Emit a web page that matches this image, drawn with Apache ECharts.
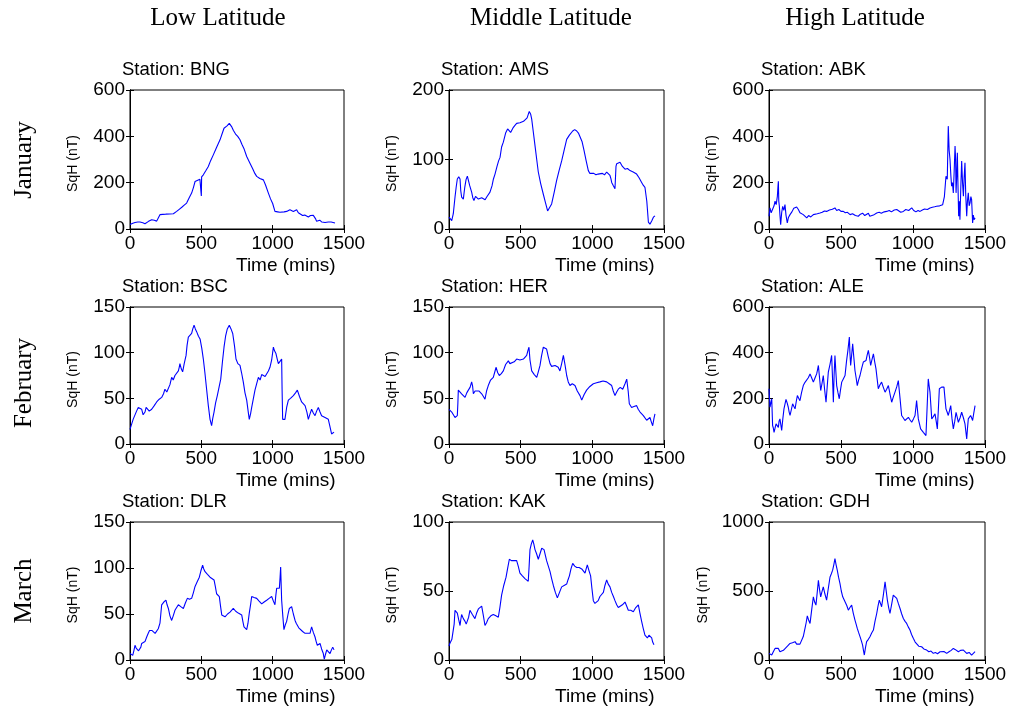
<!DOCTYPE html>
<html>
<head>
<meta charset="utf-8">
<script src="https://cdn.jsdelivr.net/npm/echarts@6/dist/echarts.min.js"></script>
<style>html,body{margin:0;padding:0;background:#fff}#c{width:1010px;height:709px}</style>
</head>
<body>
<div id="c"></div>
<script>
// ---- Data (time in minutes, SqH in nT) ----
const columnHeaders = ["Low Latitude", "Middle Latitude", "High Latitude"];
const rowHeaders = ["January", "February", "March"];
const stations = ["BNG", "AMS", "ABK", "BSC", "HER", "ALE", "DLR", "KAK", "GDH"];
const xTicks = [0, 500, 1000, 1500];
const yMaxes = [600, 200, 600, 150, 150, 600, 150, 100, 1000];
const yIntervals = [200, 100, 200, 50, 50, 200, 50, 50, 500];

const BNG = [[0,19],[20,25],[35,28],[55,30],[70,30],[90,27],[105,23],[130,33],[152,40],[170,38],[187,34],[200,50],[210,62],[230,63],[250,64],[280,65],[304,66],[327,76],[345,85],[365,95],[380,103],[397,112],[415,135],[432,155],[445,180],[456,205],[470,210],[490,215],[498,215],[500,143],[502,225],[514,234],[530,250],[549,270],[565,295],[584,320],[605,350],[631,385],[645,410],[659,435],[680,445],[696,456],[712,442],[725,425],[740,410],[755,400],[771,385],[785,365],[800,345],[818,313],[840,285],[860,260],[875,240],[888,227],[910,218],[935,212],[950,190],[970,155],[985,130],[1000,110],[1016,76],[1035,74],[1051,72],[1065,76],[1080,74],[1098,76],[1110,80],[1121,83],[1133,78],[1145,76],[1158,80],[1168,83],[1180,70],[1192,62],[1210,58],[1225,60],[1238,55],[1250,52],[1265,58],[1285,59],[1300,45],[1308,33],[1320,35],[1330,38],[1345,30],[1355,33],[1367,28],[1379,23],[1390,30],[1402,36],[1410,30],[1420,28],[1437,26]];
const AMS = [[0,17],[10,18],[19,12],[30,22],[42,46],[50,60],[58,72],[68,75],[77,72],[82,55],[88,46],[100,43],[110,60],[119,71],[128,76],[135,74],[145,62],[158,53],[166,45],[174,41],[185,47],[193,46],[205,43],[216,41],[228,45],[240,44],[252,42],[263,46],[275,48],[286,53],[300,62],[310,72],[321,79],[335,90],[346,98],[356,103],[367,118],[379,125],[395,138],[409,144],[420,143],[430,139],[437,141],[448,146],[460,149],[472,152],[484,151],[495,153],[508,152],[520,155],[530,156],[545,160],[553,165],[560,169],[570,165],[577,158],[588,140],[600,120],[612,100],[623,82],[640,65],[658,50],[673,38],[688,26],[700,28],[716,36],[733,52],[751,70],[768,84],[786,98],[803,113],[821,129],[840,135],[863,141],[877,143],[891,141],[903,138],[914,139],[928,126],[942,113],[957,98],[972,84],[983,80],[995,79],[1010,80],[1025,78],[1040,79],[1053,77],[1070,80],[1085,78],[1100,82],[1112,80],[1123,77],[1130,72],[1135,67],[1145,63],[1150,62],[1158,58],[1165,90],[1170,94],[1182,92],[1193,96],[1210,90],[1228,86],[1245,87],[1263,84],[1285,82],[1309,79],[1325,74],[1344,67],[1355,63],[1367,60],[1380,40],[1391,10],[1402,7],[1415,12],[1426,17],[1437,19]];
const ABK = [[0,55],[7,91],[15,70],[25,76],[35,100],[42,120],[50,105],[58,141],[62,180],[65,206],[68,120],[72,98],[76,60],[81,19],[88,70],[95,98],[103,80],[111,105],[118,60],[127,26],[135,50],[146,62],[160,75],[172,90],[181,98],[192,95],[204,84],[215,70],[228,75],[238,62],[250,55],[262,48],[275,58],[290,52],[308,62],[320,58],[335,66],[354,69],[370,72],[385,78],[400,76],[420,82],[440,85],[458,91],[470,80],[485,84],[500,76],[516,76],[530,70],[545,72],[563,62],[580,66],[600,58],[620,55],[635,64],[650,68],[665,58],[678,62],[690,68],[700,55],[713,48],[725,60],[748,69],[765,72],[780,68],[800,74],[817,76],[835,80],[850,74],[870,82],[887,84],[900,78],[915,72],[933,76],[950,84],[970,80],[991,91],[1005,80],[1020,74],[1035,80],[1049,76],[1065,82],[1080,86],[1100,84],[1118,91],[1135,94],[1150,96],[1164,98],[1185,100],[1206,105],[1218,140],[1229,228],[1238,215],[1245,444],[1251,340],[1257,300],[1263,230],[1268,185],[1274,200],[1280,156],[1286,250],[1292,358],[1296,300],[1299,156],[1303,220],[1308,329],[1312,200],[1317,55],[1322,120],[1326,40],[1332,180],[1338,293],[1344,200],[1350,141],[1355,220],[1361,286],[1366,150],[1373,55],[1378,120],[1384,156],[1390,100],[1396,113],[1402,140],[1407,127],[1411,70],[1414,26],[1419,60],[1424,40],[1431,48]];
const BSC = [[0,16],[12,22],[22,27],[35,29],[46,36],[58,40],[70,38],[82,38],[92,32],[105,35],[113,40],[121,42],[135,36],[152,38],[170,42],[187,46],[205,49],[222,51],[235,55],[245,60],[258,57],[269,59],[280,65],[292,73],[303,70],[315,75],[327,76],[339,80],[345,84],[350,88],[360,82],[369,79],[380,88],[393,97],[400,108],[409,117],[420,118],[432,121],[440,126],[449,130],[458,126],[467,123],[480,118],[491,115],[503,105],[514,93],[525,78],[537,60],[549,42],[561,27],[572,20],[580,28],[589,35],[600,45],[612,53],[624,62],[636,71],[648,90],[659,106],[670,118],[682,126],[690,128],[696,130],[708,126],[720,121],[732,108],[743,93],[756,88],[771,86],[782,78],[794,68],[806,56],[818,48],[828,36],[836,27],[845,33],[853,40],[865,50],[876,59],[888,66],[900,73],[912,70],[923,76],[935,77],[947,74],[958,75],[970,80],[981,84],[993,92],[1005,106],[1013,102],[1023,99],[1032,93],[1040,88],[1050,90],[1063,93],[1066,60],[1070,27],[1078,25],[1086,27],[1098,40],[1110,48],[1125,50],[1145,53],[1160,56],[1173,59],[1188,52],[1203,46],[1215,45],[1227,42],[1240,35],[1250,27],[1262,33],[1273,38],[1285,34],[1297,31],[1308,36],[1320,40],[1332,35],[1343,31],[1355,33],[1367,29],[1378,30],[1390,27],[1400,20],[1413,11],[1422,12],[1430,13]];
const HER = [[0,38],[10,40],[19,35],[30,34],[42,29],[50,30],[58,31],[62,45],[65,59],[77,58],[88,55],[100,53],[112,51],[124,56],[135,59],[147,62],[158,68],[165,63],[170,55],[182,58],[193,60],[210,58],[228,55],[240,52],[251,49],[262,58],[274,64],[290,70],[309,73],[318,78],[328,84],[340,78],[351,75],[365,77],[379,80],[395,87],[414,91],[425,88],[437,86],[455,90],[472,93],[495,92],[519,93],[530,95],[542,97],[550,102],[558,106],[565,92],[577,80],[595,76],[612,73],[623,79],[635,86],[645,96],[658,106],[670,105],[681,104],[692,96],[705,88],[716,85],[728,84],[740,86],[751,88],[762,84],[774,80],[786,88],[798,97],[810,86],[821,75],[832,68],[844,64],[860,66],[879,64],[895,58],[914,53],[926,48],[942,54],[960,59],[983,63],[1007,66],[1030,67],[1053,68],[1075,69],[1100,68],[1118,66],[1135,64],[1146,58],[1158,53],[1170,57],[1181,60],[1195,62],[1212,60],[1228,66],[1240,71],[1250,58],[1258,44],[1266,42],[1274,40],[1290,41],[1309,42],[1320,38],[1333,35],[1345,33],[1356,31],[1367,29],[1379,26],[1390,28],[1402,29],[1412,24],[1421,20],[1430,28],[1437,33]];
const ALE = [[0,242],[7,161],[13,180],[19,198],[25,81],[30,70],[35,51],[42,70],[49,88],[57,80],[65,73],[70,100],[76,110],[82,85],[88,59],[96,110],[104,154],[111,175],[118,195],[126,180],[134,161],[140,140],[146,125],[155,150],[164,176],[172,165],[181,154],[189,185],[197,212],[206,200],[215,190],[226,225],[238,256],[250,270],[262,278],[273,290],[285,307],[296,290],[308,271],[320,290],[331,307],[337,325],[343,344],[351,290],[359,234],[368,265],[377,300],[386,240],[396,183],[404,250],[412,315],[424,350],[435,388],[441,290],[447,183],[452,300],[458,388],[464,320],[470,256],[479,225],[488,198],[496,235],[505,271],[516,285],[528,300],[533,330],[539,366],[548,410],[558,468],[562,400],[567,344],[574,390],[581,439],[589,380],[597,322],[605,290],[613,256],[622,280],[632,300],[643,330],[655,359],[664,362],[674,366],[682,390],[690,410],[698,380],[706,344],[715,370],[725,395],[734,360],[743,329],[751,285],[759,242],[770,258],[782,271],[794,248],[806,227],[817,240],[829,256],[840,220],[852,183],[863,205],[875,227],[887,250],[898,278],[910,200],[921,125],[932,115],[944,103],[956,110],[968,117],[980,105],[991,95],[1003,110],[1014,125],[1020,160],[1025,190],[1031,150],[1037,110],[1045,88],[1053,66],[1062,58],[1072,51],[1081,45],[1090,37],[1098,160],[1106,285],[1112,255],[1118,227],[1124,170],[1130,110],[1141,120],[1153,132],[1161,100],[1169,66],[1176,150],[1183,242],[1191,245],[1199,249],[1207,250],[1215,249],[1222,200],[1229,154],[1237,140],[1245,125],[1253,145],[1262,168],[1271,110],[1280,66],[1290,100],[1299,139],[1307,118],[1315,95],[1327,115],[1338,139],[1350,115],[1361,88],[1367,55],[1373,22],[1378,65],[1384,110],[1392,118],[1400,125],[1407,115],[1414,103],[1422,135],[1431,168]];
const DLR = [[0,7],[10,6],[19,5],[27,10],[35,16],[43,13],[51,11],[60,10],[70,9],[76,14],[82,18],[94,19],[105,20],[117,25],[128,29],[137,32],[145,34],[155,32],[164,31],[176,29],[187,27],[198,34],[210,40],[216,50],[222,60],[237,63],[252,65],[260,60],[269,56],[280,48],[292,43],[303,48],[315,54],[327,57],[339,60],[356,58],[374,56],[388,62],[402,67],[417,66],[432,67],[444,73],[456,80],[471,85],[486,90],[497,97],[509,103],[517,99],[526,96],[543,93],[561,90],[575,88],[589,87],[598,80],[607,72],[617,70],[626,69],[635,58],[643,49],[654,48],[666,47],[684,50],[701,52],[712,54],[724,56],[741,53],[759,51],[771,50],[783,49],[791,42],[799,36],[808,34],[818,33],[827,40],[836,51],[845,60],[853,69],[870,68],[888,67],[905,64],[923,61],[940,63],[958,65],[975,67],[993,69],[1005,64],[1016,60],[1022,70],[1028,78],[1038,78],[1047,78],[1052,90],[1056,101],[1060,80],[1063,65],[1071,48],[1079,33],[1088,38],[1098,42],[1108,50],[1117,56],[1125,57],[1133,58],[1145,50],[1157,43],[1165,40],[1173,38],[1183,35],[1192,33],[1210,31],[1227,29],[1245,29],[1262,29],[1268,33],[1273,36],[1285,30],[1297,25],[1305,20],[1313,16],[1322,17],[1332,18],[1343,12],[1355,7],[1358,4],[1362,1],[1370,6],[1379,11],[1390,9],[1402,7],[1412,11],[1421,14],[1430,11]];
const KAK = [[0,10],[6,12],[12,13],[20,15],[30,16],[36,26],[42,36],[50,35],[58,34],[68,29],[77,25],[82,29],[88,33],[100,30],[112,28],[120,26],[128,25],[137,31],[146,36],[163,33],[181,30],[193,34],[205,37],[217,38],[228,39],[240,32],[251,25],[262,27],[274,30],[292,32],[309,33],[327,32],[344,31],[355,38],[367,47],[382,54],[398,60],[410,67],[421,73],[435,72],[449,72],[460,71],[472,72],[483,68],[495,63],[512,61],[530,59],[541,58],[553,57],[559,68],[565,80],[574,84],[584,87],[592,84],[600,80],[611,77],[623,73],[635,77],[647,81],[655,80],[663,80],[672,76],[681,72],[693,68],[705,64],[716,59],[728,54],[742,49],[756,45],[771,49],[786,53],[803,54],[821,55],[830,58],[840,61],[851,66],[863,70],[877,68],[891,67],[908,67],[926,66],[937,65],[949,63],[957,66],[965,69],[976,65],[988,61],[997,52],[1007,43],[1018,41],[1030,40],[1041,43],[1053,46],[1065,47],[1077,49],[1088,54],[1100,58],[1111,55],[1123,53],[1135,49],[1147,46],[1158,43],[1170,40],[1181,38],[1193,37],[1210,40],[1228,42],[1240,39],[1251,36],[1268,36],[1286,35],[1303,38],[1321,40],[1332,34],[1344,28],[1355,23],[1367,18],[1376,17],[1384,16],[1395,18],[1407,19],[1414,16],[1421,13],[1430,11]];
const GDH = [[0,48],[10,42],[19,36],[30,60],[42,84],[54,80],[65,84],[76,60],[88,48],[100,70],[111,84],[128,100],[146,120],[163,125],[181,133],[192,115],[204,108],[215,115],[227,120],[238,170],[250,229],[258,270],[266,320],[275,290],[285,265],[296,360],[308,458],[317,420],[326,398],[334,480],[343,578],[351,510],[359,458],[368,495],[377,530],[388,480],[400,434],[412,520],[424,602],[433,625],[442,651],[450,690],[458,735],[466,690],[474,651],[483,600],[493,554],[502,500],[512,458],[520,440],[528,434],[540,395],[551,361],[562,380],[574,398],[585,340],[597,289],[605,260],[613,229],[622,200],[632,169],[641,140],[650,108],[656,70],[662,36],[670,90],[678,133],[690,150],[701,169],[713,195],[725,217],[736,280],[748,337],[757,390],[766,434],[774,410],[782,386],[794,470],[806,566],[814,500],[822,434],[831,380],[840,337],[851,400],[863,470],[875,460],[887,446],[898,410],[910,373],[921,335],[933,301],[945,280],[956,265],[967,240],[979,217],[990,185],[1002,157],[1015,130],[1025,120],[1040,100],[1050,110],[1060,96],[1075,80],[1085,90],[1095,72],[1110,60],[1125,65],[1141,48],[1155,55],[1170,45],[1188,60],[1200,50],[1215,62],[1234,48],[1250,60],[1265,70],[1280,84],[1295,75],[1315,60],[1330,70],[1350,72],[1360,60],[1373,48],[1390,55],[1407,36],[1420,50],[1431,60]];

const seriesData = [BNG, AMS, ABK, BSC, HER, ALE, DLR, KAK, GDH];

// ---- Layout ----
const colLeft = [130, 449, 769];
const colWidth = [214, 215, 216];
const rowTop = [90, 307, 522];
const rowHeight = [139, 137, 138];
const colCenter = [218, 551, 855];
const rowCenter = [160, 383, 591];

const FONT = '"Liberation Sans", Arial, sans-serif';
const SERIF = '"Liberation Serif", "Times New Roman", serif';

const grids = [], xAxes = [], yAxes = [], series = [], graphics = [];
for (let i = 0; i < 9; i++) {
  const r = Math.floor(i / 3), c = i % 3;
  grids.push({left: colLeft[c], top: rowTop[r], width: colWidth[c], height: rowHeight[r],
    show: true, borderColor: '#000', borderWidth: 1, backgroundColor: 'transparent'});
  const axLine = {show: true, lineStyle: {color: '#000', width: 1}};
  const tick = {show: true, inside: true, length: 4, lineStyle: {color: '#000'}};
  xAxes.push({gridIndex: i, type: 'value', min: xTicks[0], max: xTicks[xTicks.length-1], interval: 500,
    axisLine: axLine, axisTick: tick, splitLine: {show: false},
    axisLabel: {color: '#000', fontSize: 19, fontFamily: FONT, margin: 5, formatter: v => String(v)}});
  xAxes.push({gridIndex: i, type: 'value', position: 'top', min: xTicks[0], max: xTicks[xTicks.length-1], interval: 500,
    axisLine: axLine, axisTick: tick, splitLine: {show: false}, axisLabel: {show: false}});
  yAxes.push({gridIndex: i, type: 'value', min: 0, max: yMaxes[i], interval: yIntervals[i],
    axisLine: axLine, axisTick: tick, splitLine: {show: false},
    axisLabel: {color: '#000', fontSize: 19, fontFamily: FONT, margin: 5, formatter: v => String(v)}});
  yAxes.push({gridIndex: i, type: 'value', position: 'right', min: 0, max: yMaxes[i], interval: yIntervals[i],
    axisLine: axLine, axisTick: tick, splitLine: {show: false}, axisLabel: {show: false}});
  series.push({type: 'line', xAxisIndex: 2*i, yAxisIndex: 2*i, data: seriesData[i],
    showSymbol: false, symbol: 'none', lineStyle: {color: '#0000ff', width: 1.1}, animation: false});
  graphics.push({type: 'text', left: colLeft[c] - 8, top: rowTop[r] - 30,
    style: {text: 'Station: ' + stations[i], font: '18.5px ' + FONT, fill: '#000'}});
  graphics.push({type: 'text', left: colLeft[c] + 106, top: rowTop[r] + rowHeight[r] + 27,
    style: {text: 'Time (mins)', font: '19px ' + FONT, fill: '#000'}});
  const yl = (yMaxes[i] >= 1000) ? colLeft[c] - 66 : colLeft[c] - 57;
  graphics.push({type: 'text', x: yl, y: rowTop[r] + rowHeight[r]/2 + 4, rotation: Math.PI/2,
    style: {text: 'SqH (nT)', font: '14px ' + FONT, fill: '#000', textAlign: 'center', textVerticalAlign: 'middle'}});
}
for (let c = 0; c < 3; c++) {
  graphics.push({type: 'text', x: colCenter[c], y: 18,
    style: {text: columnHeaders[c], font: '25px ' + SERIF, fill: '#000', textAlign: 'center', textVerticalAlign: 'middle'}});
}
for (let r = 0; r < 3; r++) {
  graphics.push({type: 'text', x: 24, y: rowCenter[r], rotation: Math.PI/2,
    style: {text: rowHeaders[r], font: '25px ' + SERIF, fill: '#000', textAlign: 'center', textVerticalAlign: 'middle'}});
}

const chart = echarts.init(document.getElementById('c'), null, {renderer: 'canvas'});
chart.setOption({
  backgroundColor: '#fff',
  animation: false,
  grid: grids, xAxis: xAxes, yAxis: yAxes, series: series, graphic: graphics
});
</script>
</body>
</html>
